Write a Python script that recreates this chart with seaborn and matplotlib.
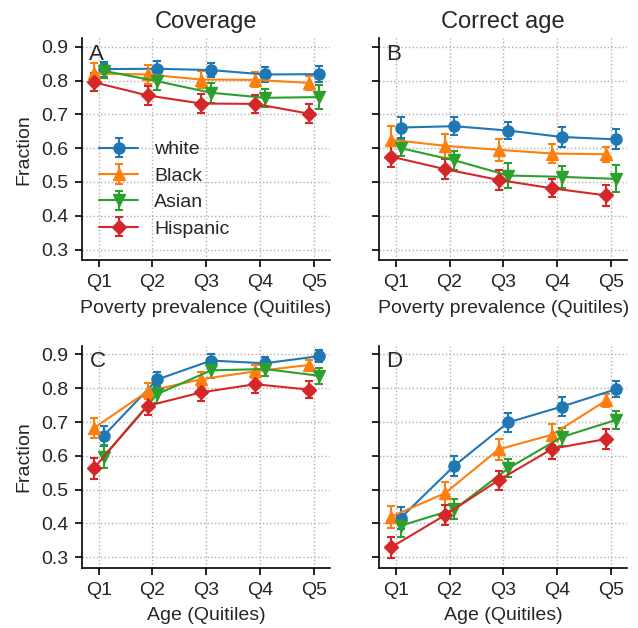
import numpy as np
import seaborn as sns
import matplotlib.pyplot as plt

# Values
quintiles = ["Q1", "Q2", "Q3", "Q4", "Q5"]
groups = ["white", "Black", "Asian", "Hispanic"]
markers = ["o", "^", "v", "D"]
offsets = [0.09, -0.09, 0.09, -0.09]

# A: coverage by poverty prevalence
cov_pov = {
    "white": [0.834, 0.835, 0.831, 0.818, 0.819],
    "Black": [0.821, 0.818, 0.803, 0.802, 0.793],
    "Asian": [0.829, 0.798, 0.764, 0.749, 0.751],
    "Hispanic": [0.795, 0.756, 0.732, 0.731, 0.702],
}
cov_pov_err = {
    "white": [0.022, 0.022, 0.020, 0.022, 0.023],
    "Black": [0.030, 0.027, 0.024, 0.022, 0.020],
    "Asian": [0.020, 0.027, 0.030, 0.026, 0.036],
    "Hispanic": [0.027, 0.027, 0.027, 0.026, 0.028],
}
# B: correct age by poverty prevalence
age_pov = {
    "white": [0.661, 0.665, 0.652, 0.633, 0.626],
    "Black": [0.625, 0.607, 0.595, 0.584, 0.582],
    "Asian": [0.600, 0.564, 0.519, 0.515, 0.509],
    "Hispanic": [0.575, 0.538, 0.506, 0.481, 0.460],
}
age_pov_err = {
    "white": [0.030, 0.027, 0.025, 0.030, 0.030],
    "Black": [0.042, 0.036, 0.032, 0.028, 0.022],
    "Asian": [0.024, 0.028, 0.036, 0.032, 0.040],
    "Hispanic": [0.032, 0.030, 0.030, 0.027, 0.030],
}
# C: coverage by age
cov_age = {
    "white": [0.659, 0.826, 0.882, 0.874, 0.895],
    "Black": [0.682, 0.791, 0.827, 0.850, 0.869],
    "Asian": [0.598, 0.783, 0.853, 0.857, 0.837],
    "Hispanic": [0.563, 0.748, 0.788, 0.812, 0.796],
}
cov_age_err = {
    "white": [0.030, 0.023, 0.020, 0.020, 0.018],
    "Black": [0.030, 0.024, 0.022, 0.020, 0.016],
    "Asian": [0.035, 0.026, 0.022, 0.022, 0.024],
    "Hispanic": [0.032, 0.028, 0.026, 0.026, 0.026],
}
# D: correct age by age
age_age = {
    "white": [0.416, 0.571, 0.699, 0.746, 0.797],
    "Black": [0.420, 0.489, 0.619, 0.663, 0.764],
    "Asian": [0.393, 0.442, 0.563, 0.656, 0.706],
    "Hispanic": [0.329, 0.424, 0.528, 0.621, 0.650],
}
age_age_err = {
    "white": [0.032, 0.030, 0.027, 0.027, 0.024],
    "Black": [0.033, 0.033, 0.030, 0.030, 0.020],
    "Asian": [0.032, 0.030, 0.027, 0.027, 0.026],
    "Hispanic": [0.030, 0.030, 0.028, 0.030, 0.030],
}

sns.set_style("ticks")
plt.rcParams["font.family"] = ["Liberation Sans", "DejaVu Sans"]
palette = sns.color_palette("tab10", 4)

fig, axes = plt.subplots(2, 2, figsize=(6.38, 6.28), dpi=100)
panels = [
    (axes[0, 0], cov_pov, cov_pov_err, "A", "Poverty prevalence (Quitiles)"),
    (axes[0, 1], age_pov, age_pov_err, "B", "Poverty prevalence (Quitiles)"),
    (axes[1, 0], cov_age, cov_age_err, "C", "Age (Quitiles)"),
    (axes[1, 1], age_age, age_age_err, "D", "Age (Quitiles)"),
]

x = np.arange(len(quintiles))
for ax, vals, errs, letter, xlabel in panels:
    for g, m, off, c in zip(groups, markers, offsets, palette):
        ax.errorbar(x + off, vals[g], yerr=errs[g], color=c, marker=m,
                    markersize=8 if m != "D" else 7, lw=1.5, capsize=3,
                    elinewidth=1.5, capthick=1.5, label=g)
    ax.set_xticks(x)
    ax.set_xticklabels(quintiles)
    ax.set_xlim(-0.31, 4.3)
    ax.set_ylim(0.268, 0.926)
    ax.set_yticks([0.3, 0.4, 0.5, 0.6, 0.7, 0.8, 0.9])
    ax.grid(True, linestyle=":", color="#b0b0b0", lw=1)
    ax.tick_params(labelsize=14, length=5, width=1.2, color="black", pad=5)
    for s in ["left", "bottom"]:
        ax.spines[s].set_color("black")
        ax.spines[s].set_linewidth(1.2)
    sns.despine(ax=ax)
    ax.set_xlabel(xlabel, fontsize=14, labelpad=6)
    ax.text(0.03, 0.975, letter, transform=ax.transAxes, fontsize=16,
            va="top", ha="left")

for ax in axes[:, 1]:
    ax.set_yticklabels([])
for ax in axes[:, 0]:
    ax.set_ylabel("Fraction", fontsize=14, labelpad=6)

axes[0, 0].set_title("Coverage", fontsize=17, pad=7)
axes[0, 1].set_title("Correct age", fontsize=17, pad=7)
axes[0, 0].legend(loc="center left", bbox_to_anchor=(0.0, 0.32), frameon=False,
                  fontsize=14, handlelength=2.0, labelspacing=0.45)

fig.subplots_adjust(left=0.1285, right=0.983, top=0.9395, bottom=0.0955,
                    wspace=0.198, hspace=0.384)
fig.savefig("out.png", dpi=100)
